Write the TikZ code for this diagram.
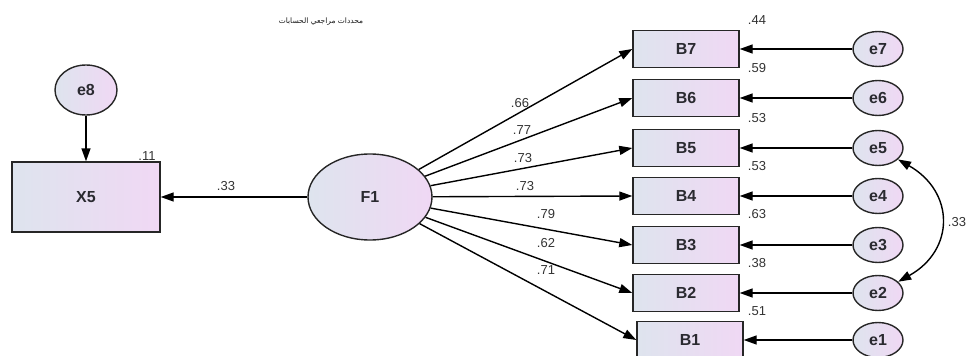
\documentclass[tikz,border=0pt]{standalone}
\usepackage{fontspec}
\setmainfont{Liberation Sans}
\newfontfamily\arabicfont[Script=Arabic]{DejaVu Sans}
\TeXXeTstate=1
\usetikzlibrary{arrows.meta,shapes.geometric}
\definecolor{boxleft}{HTML}{DEE4EE}
\definecolor{boxright}{HTML}{F0D8F4}
\definecolor{txt}{HTML}{2A2A30}
\tikzset{
  obs/.style={draw=black!85, line width=1.4pt, rectangle, minimum width=106pt, minimum height=37pt,
    left color=boxleft, right color=boxright, font=\fontsize{16}{16}\selectfont\bfseries, text=txt},
  lat/.style={draw=black!85, line width=1.4pt, ellipse, left color=boxleft, right color=boxright,
    font=\fontsize{16}{16}\selectfont\bfseries, text=txt, inner sep=0pt},
  errnode/.style={lat, minimum width=50pt, minimum height=35pt},
  path/.style={line width=1.4pt, -{Triangle[length=13pt,width=9pt]}},
  cov/.style={line width=1.4pt, {Triangle[length=13pt,width=9pt]}-{Triangle[length=13pt,width=9pt]}},
  num/.style={font=\fontsize{13}{13}\selectfont, text=black!80, inner sep=0pt}
}
\begin{document}
\begin{tikzpicture}[x=1pt,y=-1pt]
\useasboundingbox (0,0) rectangle (967,356);
% title
\node[inner sep=0pt, font=\arabicfont\fontsize{7.5}{7.5}\selectfont, text=black!90] (title) at (321,22) {\beginR محددات مراجعي الحسابات\endR};
% left part
\node[lat, minimum width=62pt, minimum height=50pt] (e8) at (86,90) {e8};
\node[obs, minimum width=148pt, minimum height=70pt] (X5) at (86,197) {X5};
\node[lat, minimum width=124pt, minimum height=86pt] (F1) at (370,197) {F1};
\draw[path] (e8) -- (X5);
\draw[path] (F1) -- (X5);
\node[num] (l11) at (147,156) {.11};
\node[num] (l33a) at (226,186) {.33};
% observed B
\node[obs] (B7) at (686,49) {B7};
\node[obs] (B6) at (686,98) {B6};
\node[obs] (B5) at (686,148) {B5};
\node[obs] (B4) at (686,196) {B4};
\node[obs] (B3) at (686,245) {B3};
\node[obs] (B2) at (686,293) {B2};
\node[obs] (B1) at (690,340) {B1};
% errors
\node[errnode] (e7) at (878,49) {e7};
\node[errnode] (e6) at (878,98) {e6};
\node[errnode] (e5) at (878,148) {e5};
\node[errnode] (e4) at (878,196) {e4};
\node[errnode] (e3) at (878,245) {e3};
\node[errnode] (e2) at (878,293) {e2};
\node[errnode] (e1) at (878,340) {e1};
\foreach \i in {1,...,7} {\draw[path] (e\i) -- (B\i.east);}
\foreach \i in {1,...,7} {\draw[path] (F1) -- (B\i.west);}
\draw[cov] (e5) .. controls (955,192) and (955,250) .. (e2);
\node[num] (c33) at (957,222) {.33};
% loadings
\node[num] (L7) at (520,103) {.66};
\node[num] (L6) at (522,130) {.77};
\node[num] (L5) at (523,158) {.73};
\node[num] (L4) at (525,186) {.73};
\node[num] (L3) at (546,214) {.79};
\node[num] (L2) at (546,243) {.62};
\node[num] (L1) at (546,270) {.71};
% R2
\node[num] (R7) at (757,20) {.44};
\node[num] (R6) at (757,68) {.59};
\node[num] (R5) at (757,118) {.53};
\node[num] (R4) at (757,166) {.53};
\node[num] (R3) at (757,214) {.63};
\node[num] (R2) at (757,263) {.38};
\node[num] (R1) at (757,311) {.51};
\end{tikzpicture}
\end{document}
